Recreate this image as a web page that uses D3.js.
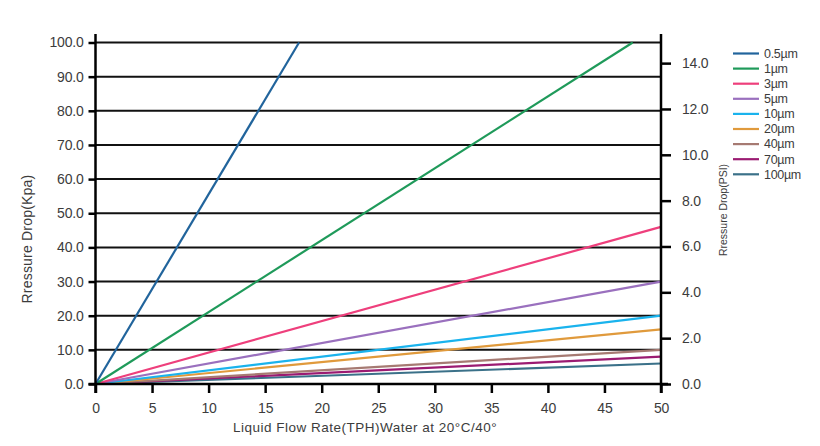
<!DOCTYPE html>
<html>
<head>
<meta charset="utf-8">
<script src="https://cdn.jsdelivr.net/npm/d3@7/dist/d3.min.js"></script>
<style>
  html, body { margin: 0; padding: 0; background: #fff; }
  svg { display: block; }
  text { font-family: "Liberation Sans", Arial, sans-serif; fill: #3c3c3c; }
</style>
</head>
<body>
<svg id="chart" width="820" height="446"></svg>
<script>
// ---- data ----
const seriesNames = ["0.5\u00b5m", "1\u00b5m", "3\u00b5m", "5\u00b5m", "10\u00b5m", "20\u00b5m", "40\u00b5m", "70\u00b5m", "100\u00b5m"];
const startFlow = [0, 0, 0, 0, 0, 0, 0, 0, 0];
const startKpa  = [0, 0, 0, 0, 0, 0, 0, 0, 0];
const endFlow   = [18, 47.5, 50, 50, 50, 50, 50, 50, 50];
const endKpa    = [100, 100, 46, 30, 20, 16, 10, 8, 6];
const seriesColors = ["#21649c", "#1f9a5a", "#ee3f7c", "#9a70be", "#1ab3ed", "#e09a3c", "#a67a72", "#9b1b72", "#3b7189"];
const flowTicks = [0, 5, 10, 15, 20, 25, 30, 35, 40, 45, 50];
const kpaTicks  = [0, 10, 20, 30, 40, 50, 60, 70, 80, 90, 100];
const psiTicks  = [0, 2, 4, 6, 8, 10, 12, 14];

// ---- layout ----
const svg = d3.select("#chart");
const L = 95.5, R = 661, T = 42.5, B = 384;
const x = d3.scaleLinear().domain([0, 50]).range([L, R]);
const y = d3.scaleLinear().domain([0, 100]).range([B, T]);
const yPsi = d3.scaleLinear().domain([0, 14.9]).range([B, T]);

// grid lines
svg.append("g").selectAll("line")
  .data(kpaTicks.filter(d => d > 0))
  .join("line")
  .attr("x1", L).attr("x2", R)
  .attr("y1", d => y(d)).attr("y2", d => y(d))
  .attr("stroke", "#111").attr("stroke-width", 2);

// series lines
const line = d3.line().x(d => x(d[0])).y(d => y(d[1]));
const series = seriesNames.map((n, i) => ({
  name: n, color: seriesColors[i],
  pts: [[startFlow[i], startKpa[i]], [endFlow[i], endKpa[i]]]
}));
svg.append("g").selectAll("path")
  .data(series.slice().reverse())
  .join("path")
  .attr("d", d => line(d.pts))
  .attr("fill", "none")
  .attr("stroke", d => d.color)
  .attr("stroke-width", 2.2);

// axes
function styleAxis(g) {
  g.select(".domain").remove();
  g.selectAll(".tick line").attr("stroke", "#000").attr("stroke-width", 2.5);
  g.selectAll(".tick text").attr("fill", "#3c3c3c").style("font-family", "Liberation Sans, Arial, sans-serif");
}
const gl = svg.append("g").attr("transform", `translate(${L},0)`)
  .call(d3.axisLeft(y).tickValues(kpaTicks).tickSize(7).tickPadding(5).tickFormat(d3.format(".1f")));
styleAxis(gl);
gl.selectAll(".tick text").style("font-size", "14px").attr("letter-spacing", "-0.2");

const gr = svg.append("g").attr("transform", `translate(${R},0)`)
  .call(d3.axisRight(yPsi).tickValues(psiTicks).tickSize(10).tickPadding(11).tickFormat(d3.format(".1f")));
styleAxis(gr);
gr.selectAll(".tick text").style("font-size", "14px").attr("letter-spacing", "-0.2");

const gb = svg.append("g").attr("transform", `translate(0,${B})`)
  .call(d3.axisBottom(x).tickValues(flowTicks).tickSize(9).tickPadding(10));
styleAxis(gb);
gb.selectAll(".tick text").style("font-size", "14px").attr("letter-spacing", "-0.2");

// axis lines
svg.append("line").attr("x1", L).attr("x2", L).attr("y1", 34).attr("y2", B + 9)
  .attr("stroke", "#000").attr("stroke-width", 2.5);
svg.append("line").attr("x1", R).attr("x2", R).attr("y1", 34).attr("y2", B + 9)
  .attr("stroke", "#000").attr("stroke-width", 2.5);
svg.append("line").attr("x1", L - 7).attr("x2", R + 7).attr("y1", B).attr("y2", B)
  .attr("stroke", "#000").attr("stroke-width", 2.5);

// titles
svg.append("text")
  .attr("transform", "translate(32,239) rotate(-90)")
  .attr("text-anchor", "middle")
  .style("font-size", "14px")
  .attr("letter-spacing", "0.2")
  .text("Rressure Drop(Kpa)");
svg.append("text")
  .attr("transform", "translate(727,210) rotate(-90)")
  .attr("text-anchor", "middle")
  .style("font-size", "10.5px")
  .text("Rressure Drop(PSI)");
svg.append("text")
  .attr("x", 365).attr("y", 432)
  .attr("text-anchor", "middle")
  .style("font-size", "13.5px")
  .attr("letter-spacing", "0.5")
  .text("Liquid Flow Rate(TPH)Water at 20\u00b0C/40\u00b0");

// legend
const lg = svg.append("g").selectAll("g")
  .data(series)
  .join("g")
  .attr("transform", (d, i) => `translate(733,${53.5 + i * 15.1})`);
lg.append("line").attr("x1", 0).attr("x2", 26).attr("y1", 0).attr("y2", 0)
  .attr("stroke", d => d.color).attr("stroke-width", 2.2);
lg.append("text").attr("x", 31).attr("y", 0).attr("dy", "0.35em")
  .style("font-size", "12.5px").attr("letter-spacing", "-0.3")
  .text(d => d.name);
</script>
</body>
</html>
